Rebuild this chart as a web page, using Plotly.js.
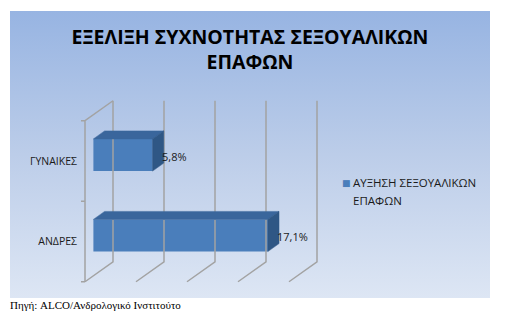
<!DOCTYPE html>
<html>
<head>
<meta charset="utf-8">
<script src="https://cdn.plot.ly/plotly-3.0.1.min.js"></script>
<style>
  html, body { margin: 0; padding: 0; background: #ffffff; }
  #wrap { position: relative; width: 509px; height: 321px; }
  #bg { position: absolute; left: 10px; top: 11px; width: 480px; height: 287px;
        background: linear-gradient(to bottom, #97b4e2 0%, #bccde9 50%, #dde6f4 100%); }
  #chart { position: absolute; left: 0; top: 0; width: 509px; height: 321px; }
</style>
</head>
<body>
<div id="wrap"><div id="bg"></div><div id="chart"></div></div>
<script>
// ---- data ----
const categories = ['ΑΝΔΡΕΣ', 'ΓΥΝΑΙΚΕΣ'];
const values = [17.1, 5.8];
const valueLabels = ['17,1%', '5,8%'];
const gridValues = [0, 5, 10, 15, 20];
const seriesName = 'ΑΥΞΗΣΗ ΣΕΞΟΥΑΛΙΚΩΝ<br>ΕΠΑΦΩΝ';
const titleText = 'ΕΞΕΛΙΞΗ ΣΥΧΝΟΤΗΤΑΣ ΣΕΞΟΥΑΛΙΚΩΝ<br>ΕΠΑΦΩΝ';
const sourceText = 'Πηγή: ALCO/Ανδρολογικό Ινστιτούτο';

// ---- pseudo-3D geometry (styling) ----
const W = 509, H = 321, ML = 78;
const pxX = 10.2, pxC = 80.5;      // pixels per value unit / per category
const zeroPx = 85, cat0Px = 241.5; // front-plane position of value 0 and first category
const DX = 28 / pxX, DY = 20 / pxC; // full depth offset in data units
const barHalf = 0.2, d0 = 0.3, d1 = 0.7;
const cMin = -0.5, cMax = categories.length - 0.5;
const P = (v, c, d) => [v + d * DX, c + d * DY];

const gridColor = '#a3a3a3';
const traces = [];
function line(pts, color, width) {
  traces.push({ type: 'scatter', mode: 'lines', x: pts.map(p => p[0]), y: pts.map(p => p[1]),
    line: { color: color, width: width }, hoverinfo: 'skip', showlegend: false });
}
// gridlines (floor diagonals + back wall verticals)
gridValues.forEach(g => {
  line([P(g, cMin, 0), P(g, cMin, 1), P(g, cMax, 1)], gridColor, 1.5);
});
// left wall: front vertical + top diagonal
const vMin = gridValues[0];
line([P(vMin, cMin, 0), P(vMin, cMax, 0), P(vMin, cMax, 1)], gridColor, 1.5);
// tick marks on the front vertical axis
const tickLen = 4 / pxX;
for (let c = cMin; c <= cMax + 1e-9; c += 1) {
  line([P(vMin - tickLen, c, 0), P(vMin, c, 0)], gridColor, 1.5);
}

// bars: front face as bar trace
const frontColor = '#4a7ebb', topColor = '#3a669c', sideColor = '#2f5785';
traces.push({
  type: 'bar', orientation: 'h', name: seriesName,
  x: values, base: values.map(() => d0 * DX),
  y: categories.map((_, i) => i + d0 * DY), width: 2 * barHalf,
  marker: { color: frontColor, line: { width: 0 } },
  hoverinfo: 'x', showlegend: false
});
// top and side faces
function face(pts, color) {
  const closed = pts.concat([pts[0]]);
  traces.push({ type: 'scatter', mode: 'lines', fill: 'toself', fillcolor: color,
    x: closed.map(p => p[0]), y: closed.map(p => p[1]),
    line: { color: color, width: 0.5 }, hoverinfo: 'skip', showlegend: false });
}
values.forEach((v, i) => {
  face([P(0, i + barHalf, d0), P(v, i + barHalf, d0), P(v, i + barHalf, d1), P(0, i + barHalf, d1)], topColor);
  face([P(v, i - barHalf, d0), P(v, i + barHalf, d0), P(v, i + barHalf, d1), P(v, i - barHalf, d1)], sideColor);
});

const font = '"Open Sans", "Noto Sans", sans-serif';
const annotations = [];
values.forEach((v, i) => {
  const p = P(v, i, 0.55);
  annotations.push({ x: p[0], y: i + 0.25 * DY, xref: 'x', yref: 'y', text: valueLabels[i],
    showarrow: false, xanchor: 'left', yanchor: 'middle', font: { family: font, size: 11, color: '#1a1a1a' } });
});
// legend key + two legend text lines
annotations.push({ x: (346.5 - ML) / (W - ML), y: 1 - 182.5 / H, xref: 'paper', yref: 'paper', text: '■',
  showarrow: false, xanchor: 'center', yanchor: 'middle', font: { family: 'DejaVu Sans', size: 9, color: frontColor } });
seriesName.split('<br>').forEach((t, k) => {
  annotations.push({ x: (351 - ML) / (W - ML), y: 1 - (183 + 17 * k) / H, xref: 'paper', yref: 'paper', text: t,
    showarrow: false, xanchor: 'left', yanchor: 'middle', align: 'left', font: { family: font, size: 11.5, color: '#1a1a1a' } });
});
// source
annotations.push({ x: (8 - ML) / (W - ML), y: 1 - 305 / H, xref: 'paper', yref: 'paper', text: sourceText,
  showarrow: false, xanchor: 'left', yanchor: 'middle', font: { family: '"Liberation Serif", serif', size: 11, color: '#000' } });

const layout = {
  width: W, height: H,
  margin: { l: ML, r: 0, t: 0, b: 0 },
  paper_bgcolor: 'rgba(0,0,0,0)', plot_bgcolor: 'rgba(0,0,0,0)',
  showlegend: false,
  title: { text: titleText, x: 250 / W, xref: 'container', xanchor: 'center',
    y: 1 - 44 / H, yref: 'container', yanchor: 'top',
    font: { family: font, size: 19.5, color: '#000', weight: 'bold' } },
  xaxis: { range: [(ML - zeroPx) / pxX, (W - zeroPx) / pxX], visible: false, fixedrange: true },
  yaxis: { range: [(cat0Px - H) / pxC, cat0Px / pxC], tickvals: categories.map((_, i) => i),
    ticktext: categories, showgrid: false, zeroline: false, showline: false, ticks: '',
    tickfont: { family: font, size: 10.5, color: '#1a1a1a' }, fixedrange: true },
  annotations: annotations
};
Plotly.newPlot('chart', traces, layout, { displayModeBar: false, staticPlot: true });
</script>
</body>
</html>
